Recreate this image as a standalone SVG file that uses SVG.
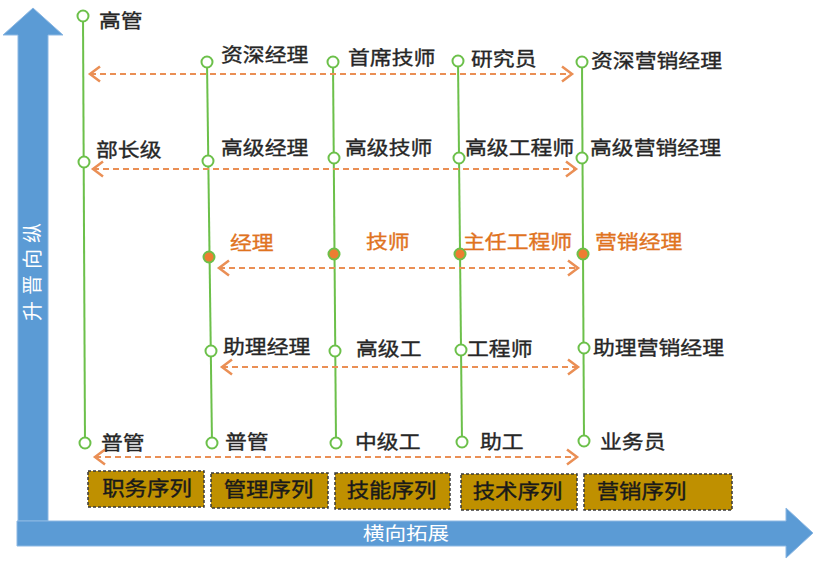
<svg xmlns="http://www.w3.org/2000/svg" width="816" height="569" viewBox="0 0 816 569">
<style>
.lbl{font-family:"Noto Sans CJK SC","Noto Sans",sans-serif;font-size:19px;fill:#262626;stroke:#262626;stroke-width:0.35}
.org{fill:#E0731F;stroke:#E0731F}
.c{fill:#fff;stroke:#6CC04A;stroke-width:2}
.cf{fill:#ED7D31;stroke:#6CC04A;stroke-width:2}
.vl{stroke:#6CC04A;stroke-width:2;fill:none}
.dl{stroke:#EA8F55;stroke-width:2;stroke-dasharray:6 4;fill:none;marker-start:url(#chev);marker-end:url(#chev)}
.box{fill:#BF9000;stroke:#3a3a3a;stroke-width:1.5;stroke-dasharray:3 2}
.bt{font-family:"Noto Sans CJK SC","Noto Sans",sans-serif;font-size:20px;fill:#1a1a1a;stroke:#1a1a1a;stroke-width:0.4;text-anchor:middle}
.ax{fill:#5B9BD5;stroke:#8DB8E3;stroke-width:1}
.axt{font-family:"Noto Sans CJK SC","Noto Sans",sans-serif;font-size:18px;fill:#fff;text-anchor:middle}
</style>
<defs>
<marker id="chev" markerUnits="userSpaceOnUse" markerWidth="20" markerHeight="20" viewBox="-10 -8 12 16" refX="0" refY="0" orient="auto-start-reverse">
<path d="M-8,-6 L0,0 L-8,6" fill="none" stroke="#EA8F55" stroke-width="2"/>
</marker>
</defs>
<g id="axes">
<polygon class="ax" points="33,8 63,35 48,35 48,521 18,521 18,35 3,35"/>
<polygon class="ax" points="17,521 786,521 786,508 813,533 786,558 786,546 17,546"/>
<text class="axt" transform="translate(33,272) rotate(-90)" x="3" y="7" style="letter-spacing:6px;font-size:20px">升晋向纵</text>
<text class="axt" transform="translate(406,540) scale(1.2,1)">横向拓展</text>
</g>
<g id="connectors">
<line class="vl" x1="83" y1="16" x2="85" y2="443"/>
<line class="vl" x1="207" y1="62" x2="212" y2="443"/>
<line class="vl" x1="333" y1="62" x2="336" y2="443"/>
<line class="vl" x1="458" y1="61" x2="462" y2="442"/>
<line class="vl" x1="582" y1="62" x2="584" y2="441"/>
<line class="dl" x1="90" y1="74" x2="572" y2="74"/>
<line class="dl" x1="93" y1="169" x2="576" y2="169"/>
<line class="dl" x1="219" y1="268" x2="578" y2="268"/>
<line class="dl" x1="222" y1="367" x2="578" y2="367"/>
<line class="dl" x1="95" y1="457" x2="577" y2="457"/>
</g>
<g id="n-gaoguan"><circle class="c" cx="83" cy="16" r="5.5"/><text class="lbl" transform="translate(99,28) scale(1.15,1)">高管</text></g>
<g id="n-buzhangji"><circle class="c" cx="84" cy="162" r="5.5"/><text class="lbl" transform="translate(96,157) scale(1.15,1)">部长级</text></g>
<g id="n-puguan1"><circle class="c" cx="85" cy="443" r="5.5"/><text class="lbl" transform="translate(101,450) scale(1.15,1)">普管</text></g>
<g id="n-zishenjingli"><circle class="c" cx="207" cy="62" r="5.5"/><text class="lbl" transform="translate(221,62) scale(1.15,1)">资深经理</text></g>
<g id="n-gaojijingli"><circle class="c" cx="208" cy="161" r="5.5"/><text class="lbl" transform="translate(221,155) scale(1.15,1)">高级经理</text></g>
<g id="n-jingli"><circle class="cf" cx="209" cy="257" r="5.5"/><text class="lbl org" transform="translate(230,250) scale(1.15,1)">经理</text></g>
<g id="n-zhulijingli"><circle class="c" cx="211" cy="351" r="5.5"/><text class="lbl" transform="translate(223,354) scale(1.15,1)">助理经理</text></g>
<g id="n-puguan2"><circle class="c" cx="212" cy="443" r="5.5"/><text class="lbl" transform="translate(225,449) scale(1.15,1)">普管</text></g>
<g id="n-shouxijishi"><circle class="c" cx="333" cy="62" r="5.5"/><text class="lbl" transform="translate(348,65) scale(1.15,1)">首席技师</text></g>
<g id="n-gaojijishi"><circle class="c" cx="334" cy="158" r="5.5"/><text class="lbl" transform="translate(345,155) scale(1.15,1)">高级技师</text></g>
<g id="n-jishi"><circle class="cf" cx="334" cy="254" r="5.5"/><text class="lbl org" transform="translate(366,249) scale(1.15,1)">技师</text></g>
<g id="n-gaojigong"><circle class="c" cx="335" cy="351" r="5.5"/><text class="lbl" transform="translate(356,356) scale(1.15,1)">高级工</text></g>
<g id="n-zhongjigong"><circle class="c" cx="336" cy="443" r="5.5"/><text class="lbl" transform="translate(355,449) scale(1.15,1)">中级工</text></g>
<g id="n-yanjiuyuan"><circle class="c" cx="458" cy="61" r="5.5"/><text class="lbl" transform="translate(471,66) scale(1.15,1)">研究员</text></g>
<g id="n-gaojigongchengshi"><circle class="c" cx="459" cy="158" r="5.5"/><text class="lbl" transform="translate(465,155) scale(1.15,1)">高级工程师</text></g>
<g id="n-zhurengongchengshi"><circle class="cf" cx="460" cy="254" r="5.5"/><text class="lbl org" transform="translate(463,249) scale(1.15,1)">主任工程师</text></g>
<g id="n-gongchengshi"><circle class="c" cx="461" cy="350" r="5.5"/><text class="lbl" transform="translate(467,356) scale(1.15,1)">工程师</text></g>
<g id="n-zhugong"><circle class="c" cx="462" cy="442" r="5.5"/><text class="lbl" transform="translate(480,449) scale(1.15,1)">助工</text></g>
<g id="n-zishenyingxiao"><circle class="c" cx="582" cy="62" r="5.5"/><text class="lbl" transform="translate(591,68) scale(1.15,1)">资深营销经理</text></g>
<g id="n-gaojiyingxiao"><circle class="c" cx="582" cy="158" r="5.5"/><text class="lbl" transform="translate(590,155) scale(1.15,1)">高级营销经理</text></g>
<g id="n-yingxiaojingli"><circle class="cf" cx="583" cy="254" r="5.5"/><text class="lbl org" transform="translate(595,249) scale(1.15,1)">营销经理</text></g>
<g id="n-zhuliyingxiao"><circle class="c" cx="584" cy="348" r="5.5"/><text class="lbl" transform="translate(593,355) scale(1.15,1)">助理营销经理</text></g>
<g id="n-yewuyuan"><circle class="c" cx="584" cy="441" r="5.5"/><text class="lbl" transform="translate(600,449) scale(1.15,1)">业务员</text></g>
<g id="b-zhiwu"><rect class="box" x="88" y="471" width="116" height="36"/><text class="bt" transform="translate(147,496) scale(1.12,1)">职务序列</text></g>
<g id="b-guanli"><rect class="box" x="211" y="473" width="117" height="35"/><text class="bt" transform="translate(268.5,497) scale(1.12,1)">管理序列</text></g>
<g id="b-jineng"><rect class="box" x="335" y="473" width="115" height="36"/><text class="bt" transform="translate(391.5,498) scale(1.12,1)">技能序列</text></g>
<g id="b-jishu"><rect class="box" x="461" y="474" width="116" height="36"/><text class="bt" transform="translate(517.5,499) scale(1.12,1)">技术序列</text></g>
<g id="b-yingxiao"><rect class="box" x="584" y="474" width="148" height="36"/><text class="bt" transform="translate(641.5,499) scale(1.12,1)">营销序列</text></g>
</svg>
